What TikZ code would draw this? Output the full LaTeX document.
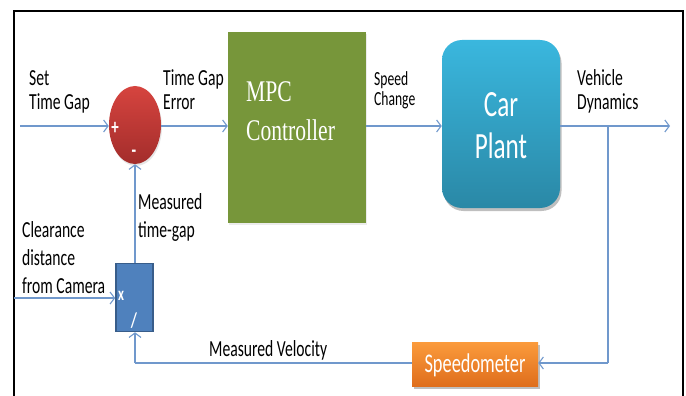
\documentclass[tikz,border=0pt]{standalone}
\usepackage{fontspec}
\usetikzlibrary{arrows.meta,shadows,shapes.geometric}
\newfontfamily\lab{Carlito}[FakeStretch=0.68]
\newfontfamily\mpcfont{Liberation Serif}[FakeStretch=0.72]
\definecolor{wire}{HTML}{7098CC}
\definecolor{olive}{HTML}{77963A}
\definecolor{tealtop}{HTML}{3AB7DE}
\definecolor{tealbot}{HTML}{2A88A6}
\definecolor{redtop}{HTML}{D6443F}
\definecolor{redbot}{HTML}{A32D2B}
\definecolor{orgtop}{HTML}{FB9B3C}
\definecolor{orgbot}{HTML}{DF6E1C}
\definecolor{mulfill}{HTML}{4F81BD}
\definecolor{mulline}{HTML}{385D8A}
\tikzset{
  wireline/.style={draw=wire, line width=1.1pt},
  arr/.style={wireline, -{Straight Barb[length=4.5pt,width=12pt,line width=1.1pt]}},
  lbl/.style={anchor=base west, inner sep=0pt, font=\lab\fontsize{23}{24}\selectfont},
  small/.style={anchor=base west, inner sep=0pt, font=\lab\fontsize{20}{22}\selectfont},
  softshadow/.style={drop shadow={shadow xshift=1.5pt, shadow yshift=-3pt, opacity=0.25, fill=black}},
  sign/.style={text=white, inner sep=0pt, font=\lab\bfseries\fontsize{22}{22}\selectfont},
}
\begin{document}
\begin{tikzpicture}[x=1pt,y=-1pt]
\useasboundingbox (0,0) rectangle (686,396);
% outer frame, open at the bottom
\draw[line width=2.5pt] (14,397) -- (14,11) -- (683,11) -- (683,397);

% summing junction
\node (sum) [ellipse, minimum width=52pt, minimum height=78pt, inner sep=0pt,
  top color=redtop, bottom color=redbot,
  drop shadow={shadow xshift=1pt, shadow yshift=-2pt, opacity=0.2}] at (135,125) {};
\node (plus) [sign] at (115,128) {+};
\node (minus) [sign] at (134,154) {-};

% MPC controller
\node (mpc) [fill=olive, minimum width=138pt, minimum height=191pt, inner sep=0pt,
  drop shadow={shadow xshift=1pt, shadow yshift=-2pt, opacity=0.15}] at (297,127.5) {};
\node (mpcA) [anchor=base west, inner sep=0pt, text=white, font=\mpcfont\fontsize{30}{30}\selectfont] at (246,102) {MPC};
\node (mpcB) [anchor=base west, inner sep=0pt, text=white, font=\mpcfont\fontsize{30}{30}\selectfont] at (246,140) {Controller};

% car plant
\node (plant) [rounded corners=20pt, minimum width=118pt, minimum height=168pt, inner sep=0pt,
  top color=tealtop, bottom color=tealbot, softshadow] at (501,124) {};
\node (carA) [anchor=base, inner sep=0pt, text=white, font=\lab\fontsize{37}{37}\selectfont] at (501,117) {Car};
\node (carB) [anchor=base, inner sep=0pt, text=white, font=\lab\fontsize{37}{37}\selectfont] at (501,158) {Plant};

% speedometer
\node (speed) [minimum width=126pt, minimum height=44pt, inner sep=0pt,
  top color=orgtop, bottom color=orgbot, softshadow] at (475,364) {};
\node (speedT) [anchor=base, inner sep=0pt, text=white, font=\lab\fontsize{27}{27}\selectfont] at (475,372) {Speedometer};

% multiplier / divider block
\node (mul) [fill=mulfill, draw=mulline, line width=1.5pt, minimum width=37pt, minimum height=68pt, inner sep=0pt] at (134.5,297.5) {};
\node (mulx) [sign, font=\lab\bfseries\fontsize{19}{19}\selectfont] at (121,296) {x};
\node (muldiv) [sign, font=\lab\bfseries\fontsize{21}{21}\selectfont] at (134,321) {/};

% signal lines
\coordinate (setIn) at (20,126);
\coordinate (outEnd) at (670,126);
\coordinate (tap) at (608,126);
\coordinate (tapDown) at (608,363);
\coordinate (fbCorner) at (135,363);
\coordinate (camIn) at (14,298);
\draw[arr] (setIn) -- (sum.west |- setIn);
\draw[arr] (sum.east |- setIn) -- (mpc.west |- setIn);
\draw[arr] (mpc.east |- setIn) -- (plant.west |- setIn);
\draw[arr] (plant.east |- setIn) -- (outEnd);
\draw[wireline] (tap) -- (tapDown);
\draw[arr] (tapDown) -- (speed.east |- tapDown);
\draw[wireline] (speed.west |- fbCorner) -- (fbCorner);
\draw[arr] (fbCorner) -- (mul.south -| fbCorner);
\draw[arr] (mul.north -| sum.south) -- (sum.south);
\draw[arr] (camIn) -- (mul.west |- camIn);

% signal labels
\node (l1) [lbl] at (29,86) {Set};
\node (l2) [lbl] at (29,110) {Time Gap};
\node (l3) [lbl] at (163,86) {Time Gap};
\node (l4) [lbl] at (163,110) {Error};
\node (l5) [small] at (374,85) {Speed};
\node (l6) [small] at (374,106) {Change};
\node (l7) [lbl] at (577,85) {Vehicle};
\node (l8) [lbl] at (577,110) {Dynamics};
\node (l9) [lbl] at (138,209) {Measured};
\node (l10) [lbl] at (138,237) {time-gap};
\node (l11) [lbl] at (22,237) {Clearance};
\node (l12) [lbl] at (22,265) {distance};
\node (l13) [lbl] at (22,293) {from Camera};
\node (l14) [lbl] at (209,356) {Measured Velocity};
\end{tikzpicture}
\end{document}
